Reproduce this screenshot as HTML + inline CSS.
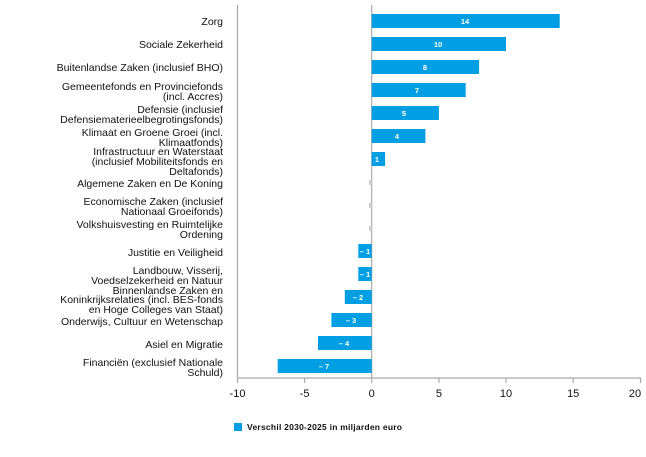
<!DOCTYPE html>
<html><head><meta charset="utf-8"><style>
body{margin:0;background:#fff;width:646px;height:452px;overflow:hidden}
svg{font-family:"Liberation Sans",Arial,sans-serif}
</style></head><body>
<svg width="646" height="452" viewBox="0 0 646 452">
<g stroke="#aaa" stroke-width="1.2">
<line x1="237.5" y1="5" x2="237.5" y2="378"/>
<line x1="371.7" y1="5" x2="371.7" y2="378"/>
<line x1="237" y1="378" x2="641" y2="378"/>
<line x1="237.5" y1="378" x2="237.5" y2="383"/>
<line x1="304.6" y1="378" x2="304.6" y2="383"/>
<line x1="371.7" y1="378" x2="371.7" y2="383"/>
<line x1="438.9" y1="378" x2="438.9" y2="383"/>
<line x1="506" y1="378" x2="506" y2="383"/>
<line x1="573.2" y1="378" x2="573.2" y2="383"/>
<line x1="640.5" y1="378" x2="640.5" y2="383"/>
</g>
<g font-size="11" fill="#111" text-anchor="middle">
<text x="237.5" y="397">-10</text><text x="304.6" y="397">-5</text><text x="371.7" y="397">0</text><text x="438.9" y="397">5</text><text x="506" y="397">10</text><text x="573.2" y="397">15</text><text x="635" y="397">20</text>
</g>
<g fill="#009fe3">
<rect x="371.7" y="14" width="188" height="14"/>
<rect x="371.7" y="37" width="134.3" height="14"/>
<rect x="371.7" y="60" width="107.4" height="14"/>
<rect x="371.7" y="83" width="94" height="14"/>
<rect x="371.7" y="106" width="67.2" height="14"/>
<rect x="371.7" y="129" width="53.7" height="14"/>
<rect x="371.7" y="152" width="13.4" height="14"/>
<rect x="358.3" y="244" width="13.4" height="14"/>
<rect x="358.3" y="267" width="13.4" height="14"/>
<rect x="344.8" y="290" width="26.9" height="14"/>
<rect x="331.4" y="313" width="40.3" height="14"/>
<rect x="318" y="336" width="53.7" height="14"/>
<rect x="277.7" y="359" width="94" height="14"/>
</g>
<g fill="#ccc"><rect x="369" y="180" width="3" height="5"/><rect x="369" y="203" width="3" height="5"/><rect x="369" y="226" width="3" height="5"/></g>
<g font-size="7.5" font-weight="bold" fill="#fff" text-anchor="middle">
<text x="465" y="24">14</text><text x="438" y="47">10</text><text x="425" y="70">8</text><text x="417" y="93">7</text><text x="404" y="116">5</text><text x="397" y="139">4</text><text x="377" y="162">1</text>
<text x="365" y="254">– 1</text><text x="365" y="277">– 1</text><text x="358" y="300">– 2</text><text x="351" y="323">– 3</text><text x="344" y="346">– 4</text><text x="324" y="369">– 7</text>
</g>
<g font-size="10.5" fill="#111" text-anchor="end">
<text x="223" y="25">Zorg</text>
<text x="223" y="48">Sociale Zekerheid</text>
<text x="223" y="71">Buitenlandse Zaken (inclusief BHO)</text>
<text x="223" y="90">Gemeentefonds en Provinciefonds</text><text x="223" y="100">(incl. Accres)</text>
<text x="223" y="113">Defensie (inclusief</text><text x="223" y="123">Defensiematerieelbegrotingsfonds)</text>
<text x="223" y="136">Klimaat en Groene Groei (incl.</text><text x="223" y="146">Klimaatfonds)</text>
<text x="223" y="155">Infrastructuur en Waterstaat</text><text x="223" y="165">(inclusief Mobiliteitsfonds en</text><text x="223" y="175">Deltafonds)</text>
<text x="223" y="187">Algemene Zaken en De Koning</text>
<text x="223" y="205">Economische Zaken (inclusief</text><text x="223" y="215">Nationaal Groeifonds)</text>
<text x="223" y="228">Volkshuisvesting en Ruimtelijke</text><text x="223" y="238">Ordening</text>
<text x="223" y="256">Justitie en Veiligheid</text>
<text x="223" y="274">Landbouw, Visserij,</text><text x="223" y="284">Voedselzekerheid en Natuur</text>
<text x="223" y="294">Binnenlandse Zaken en</text><text x="223" y="303">Koninkrijksrelaties (incl. BES-fonds</text><text x="223" y="313">en Hoge Colleges van Staat)</text>
<text x="223" y="325">Onderwijs, Cultuur en Wetenschap</text>
<text x="223" y="348">Asiel en Migratie</text>
<text x="223" y="366">Financiën (exclusief Nationale</text><text x="223" y="376">Schuld)</text>
</g>
<rect x="234" y="423" width="8" height="8" fill="#009fe3"/>
<text x="247" y="430" font-size="8.5" font-weight="bold" fill="#111" textLength="155">Verschil 2030-2025 in miljarden euro</text>
</svg>
</body></html>
